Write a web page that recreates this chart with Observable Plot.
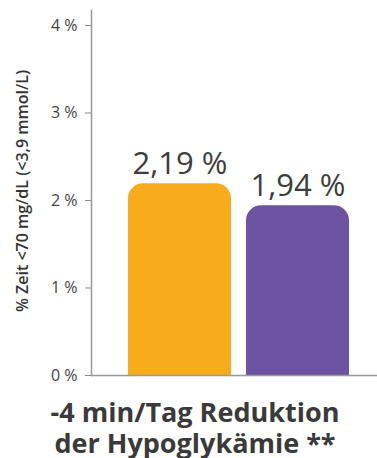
<!DOCTYPE html>
<html>
<head>
<meta charset="utf-8">
<script src="https://cdn.jsdelivr.net/npm/d3@7"></script>
<script src="https://cdn.jsdelivr.net/npm/@observablehq/plot@0.6"></script>
<style>
  html, body { margin: 0; padding: 0; background: #fff; }
  body { width: 377px; height: 458px; overflow: hidden; font-family: "Open Sans", sans-serif; }
  #title { width: 377px; box-sizing: border-box; margin-top: 2px; padding-left: 13px; text-align: center; font-weight: 700; font-size: 27px; line-height: 31px; color: #3a3a3a; white-space: nowrap; }
</style>
</head>
<body>
<div id="chart"></div>
<div id="title">-4 min/Tag Reduktion<br>der Hypoglykämie **</div>
<script>
const categories = ["A", "B"];
const values = [2.19, 1.94];
const valueLabels = ["2,19 %", "1,94 %"];
const colors = ["#F9AC1B", "#6B53A1"];
const yTicks = [0, 1, 2, 3, 4];
const yLabel = "% Zeit <70 mg/dL (<3,9 mmol/L)";

const data = categories.map((c, i) => ({cat: c, value: values[i], label: valueLabels[i], color: colors[i]}));

const chart = Plot.plot({
  width: 377,
  height: 394,
  marginLeft: 91,
  marginRight: 0,
  marginTop: 10,
  marginBottom: 19,
  style: {fontFamily: "Open Sans, sans-serif", fontSize: "16px", background: "#fff"},
  x: {domain: categories, range: [116, 361], paddingInner: 0.127, paddingOuter: 0.1, axis: null},
  y: {domain: [0, 4.171], axis: null},
  marks: [
    Plot.barY(data, {x: "cat", y: "value", fill: "color", rx: 15}),
    Plot.barY(data, {x: "cat", y1: 0, y2: d => d.value / 2, fill: "color"}),
    Plot.axisY({
      ticks: yTicks,
      tickFormat: () => "",
      tickSize: 6,
      stroke: "#888",
      label: null
    }),
    Plot.text(yTicks, {
      y: d => d,
      frameAnchor: "left",
      text: d => d + " %",
      textAnchor: "end",
      dx: -14,
      fontSize: 16,
      fill: "#444"
    }),
    Plot.text([yLabel], {
      frameAnchor: "left",
      text: d => d,
      rotate: -90,
      textAnchor: "middle",
      dx: -69,
      dy: -2,
      fontSize: 16,
      fontWeight: 600,
      fill: "#333"
    }),
    Plot.ruleY([0], {stroke: "#999", strokeWidth: 1.5}),
    Plot.frame({anchor: "left", stroke: "#999", strokeWidth: 1.5}),
    Plot.text(data, {x: "cat", y: "value", text: "label", dy: -20, fontSize: 31, fill: "#3d3d3d"})
  ]
});
document.getElementById("chart").appendChild(chart);
</script>
</body>
</html>
